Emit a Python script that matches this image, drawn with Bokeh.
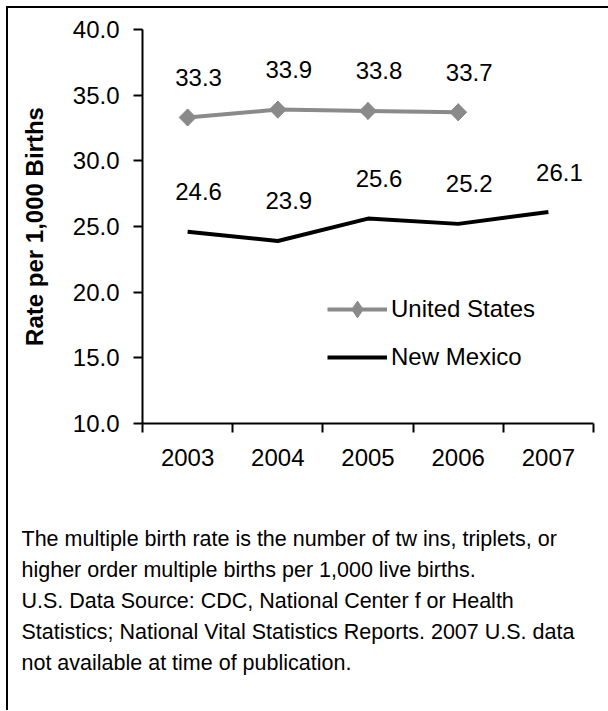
import math
from bokeh.plotting import figure
from bokeh.layouts import column
from bokeh.models import (FixedTicker, Legend, LegendItem, Range1d, Title,
                          NumeralTickFormatter)
from bokeh.embed import file_html
from bokeh.resources import INLINE

# ---------------- data ----------------
years = ["2003", "2004", "2005", "2006", "2007"]
us_rate = [33.3, 33.9, 33.8, 33.7]
nm_rate = [24.6, 23.9, 25.6, 25.2, 26.1]
y_ticks = [10, 15, 20, 25, 30, 35, 40]
series_names = ["United States", "New Mexico"]
y_title = "Rate per 1,000 Births"
caption_lines = [
    "The multiple birth rate is the number of tw ins, triplets, or",
    "higher order multiple births per 1,000 live births.",
    "U.S. Data Source:  CDC, National Center f or Health",
    "Statistics; National Vital Statistics Reports.  2007 U.S. data",
    "not available at time of publication.",
]

FONT = "Liberation Sans"
GRAY = "#8a8a8a"

W = 600
H1, H2 = 480, 222
ML, MR, MT, MB = 134, 15, 21, 65

us_x = list(range(len(us_rate)))
nm_x = list(range(len(nm_rate)))

p = figure(width=W, height=H1, output_backend="svg", toolbar_location=None,
           x_range=Range1d(-0.5, len(years) - 0.5),
           y_range=Range1d(y_ticks[0], y_ticks[-1]),
           min_border_left=ML, min_border_right=MR,
           min_border_top=MT, min_border_bottom=MB)
p.outline_line_color = None
p.grid.visible = False
p.background_fill_color = "white"
p.border_fill_color = "white"

# x axis
xa = p.xaxis[0]
xa.ticker = FixedTicker(ticks=list(range(len(years))),
                        minor_ticks=[i - 0.5 for i in range(len(years) + 1)])
xa.major_label_overrides = {i: y for i, y in enumerate(years)}
xa.major_tick_line_color = None
xa.major_tick_out = 0
xa.major_tick_in = 0
xa.minor_tick_line_color = "black"
xa.minor_tick_line_width = 2
xa.minor_tick_out = 9
xa.minor_tick_in = 0
xa.axis_line_width = 2
xa.axis_line_color = "black"
xa.major_label_standoff = 16
xa.major_label_text_font = FONT
xa.major_label_text_font_size = "24px"
xa.major_label_text_color = "black"

# y axis
ya = p.yaxis[0]
ya.ticker = FixedTicker(ticks=y_ticks)
ya.formatter = NumeralTickFormatter(format="0.0")
ya.major_tick_out = 9
ya.major_tick_in = 0
ya.major_tick_line_width = 2
ya.minor_tick_line_color = None
ya.axis_line_width = 2
ya.major_label_standoff = 14
ya.major_label_text_font = FONT
ya.major_label_text_font_size = "24px"
ya.major_label_text_color = "black"
ya.axis_label = y_title
ya.axis_label_text_font = FONT
ya.axis_label_text_font_size = "24px"
ya.axis_label_text_font_style = "bold"
ya.axis_label_text_color = "black"
ya.axis_label_standoff = 22

# series
us_line = p.line(us_x, us_rate, line_color=GRAY, line_width=4)
p.scatter(us_x, us_rate, marker="square", angle=math.pi / 4, size=12,
          fill_color=GRAY, line_color=GRAY)
us_mark = p.scatter(us_x, us_rate, marker="diamond", size=17,
                    fill_color=GRAY, line_color=GRAY)
nm_line = p.line(nm_x, nm_rate, line_color="black", line_width=4)

# data labels
for xs, vals in ((us_x, us_rate), (nm_x, nm_rate)):
    p.text(x=xs, y=vals, text=[f"{v:.1f}" for v in vals], x_offset=11, y_offset=-40,
           text_align="center", text_baseline="middle", text_font_size="24px",
           text_font={"value": FONT}, text_color="black")

legend = Legend(items=[LegendItem(label=series_names[0], renderers=[us_line, us_mark]),
                       LegendItem(label=series_names[1], renderers=[nm_line])],
                location=(185, 45), orientation="vertical",
                glyph_width=60, glyph_height=42, label_height=42, spacing=6,
                label_standoff=4, padding=0, margin=0,
                border_line_color=None, background_fill_alpha=0,
                label_text_font=FONT, label_text_font_size="24px",
                label_text_color="black")
p.add_layout(legend)

# note panel below the chart: an empty strip whose frame lines up with the
# chart's frame; the note lines are stacked titles under it
P2_TOP_STRIP = 34
p2 = figure(width=W, height=H2, output_backend="svg", toolbar_location=None,
            x_range=Range1d(0, 1), y_range=Range1d(0, 1),
            x_axis_type=None, y_axis_type=None,
            min_border_left=ML, min_border_right=MR,
            min_border_top=0, min_border_bottom=H2 - P2_TOP_STRIP)
p2.outline_line_color = None
p2.grid.visible = False
p2.background_fill_color = "white"
p2.border_fill_color = "white"
for line in caption_lines:
    p2.add_layout(Title(text=line, align="left", offset=-121, standoff=5,
                        text_font=FONT, text_font_size="21.5px",
                        text_font_style="normal", text_color="black"), "below")

page = column(p, p2, spacing=0)
page.styles = {"margin-left": "6px", "margin-top": "6px",
               "border-left": "2px solid black", "border-top": "2px solid black"}

open("out.html", "w").write(file_html(page, INLINE))
